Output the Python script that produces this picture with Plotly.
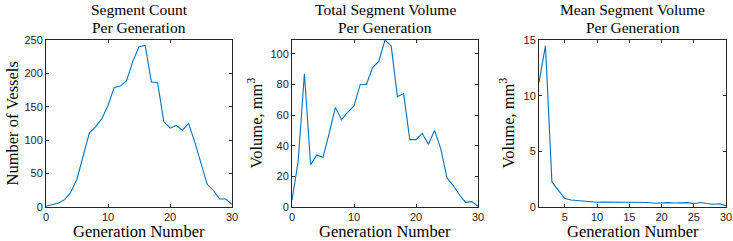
import plotly.graph_objects as go
from plotly.subplots import make_subplots

generations = list(range(0, 31))
segment_count = [1, 3, 6, 11, 22, 42, 76, 111, 120, 132, 152, 179, 181, 189, 218, 240,
                 242, 187, 186, 128, 118, 122, 115, 125, 97, 65, 34, 25, 12, 12, 4]
total_volume = [4.5, 30, 87, 27.6, 34, 32.4, 48, 65, 57, 62, 66, 80, 80, 91, 95, 109,
                105, 72, 74, 44, 44, 48, 41, 50, 38, 19, 14, 8, 3, 3.5, 0.5]
mean_generations = list(range(1, 31))
mean_volume = [11.2, 14.5, 2.25, 1.45, 0.76, 0.63, 0.58, 0.48, 0.47, 0.43, 0.45, 0.44,
               0.48, 0.44, 0.45, 0.43, 0.39, 0.40, 0.34, 0.37, 0.39, 0.36, 0.40, 0.39,
               0.29, 0.41, 0.32, 0.25, 0.29, 0.12]

title_line1 = ["Segment Count", "Total Segment Volume", "Mean Segment Volume"]
title_line2 = ["Per Generation", "Per Generation", "Per Generation"]
ylabels = ["Number of Vessels", "Volume, mm<sup>3</sup>", "Volume, mm<sup>3</sup>"]
xlabel = "Generation Number"

W, H = 733, 241
LINE = "#0072BD"
AX = "#262626"
SERIF = "Liberation Serif, Times New Roman, DejaVu Serif, serif"
SANS = "Liberation Sans, Arial, sans-serif"

fig = make_subplots(rows=1, cols=3)
fig.add_trace(go.Scatter(x=generations, y=segment_count, mode="lines",
                         line=dict(color=LINE, width=1.1)), 1, 1)
fig.add_trace(go.Scatter(x=generations, y=total_volume, mode="lines",
                         line=dict(color=LINE, width=1.1)), 1, 2)
fig.add_trace(go.Scatter(x=mean_generations, y=mean_volume, mode="lines",
                         line=dict(color=LINE, width=1.1)), 1, 3)

# pixel boxes of the three axes
boxes = [(46, 232), (292, 478), (539, 726)]
top, bottom = 40, 207
ydom = [(H - bottom) / H, (H - top) / H]

xranges = [[0, 30], [0, 30], [1, 30]]
xticks = [[0, 10, 20, 30], [0, 10, 20, 30], [5, 10, 15, 20, 25, 30]]
yranges = [[0, 250], [0, 109], [0, 15]]
yticks = [[0, 50, 100, 150, 200, 250], [0, 20, 40, 60, 80, 100], [0, 5, 10, 15]]
ylabel_x = [12, 256, 508]

common = dict(showgrid=False, zeroline=False, showline=True, linecolor=AX, linewidth=1,
              mirror="ticks", ticks="inside", ticklen=3, tickcolor=AX, tickwidth=1,
              automargin=False,
              tickfont=dict(family=SANS, size=11, color=AX))


def ann(text, x, y, size, angle=0):
    fig.add_annotation(text=text, x=x / W, y=1 - y / H, xref="paper", yref="paper",
                       showarrow=False, xanchor="center", yanchor="middle",
                       textangle=angle, borderpad=0,
                       font=dict(family=SERIF, size=size, color="black"))


for i in range(3):
    x0, x1 = boxes[i]
    fig.update_xaxes(domain=[x0 / W, x1 / W], range=xranges[i], tickvals=xticks[i],
                     row=1, col=i + 1, **common)
    fig.update_yaxes(domain=ydom, range=yranges[i], tickvals=yticks[i],
                     row=1, col=i + 1, **common)
    cx = (x0 + x1) / 2
    ann(title_line1[i], cx, 10, 15.5)
    ann(title_line2[i], cx, 27, 15.5)
    ann(xlabel, cx, 231.5, 16.5)
    ann(ylabels[i], ylabel_x[i], (top + bottom) / 2, 16.5, angle=-90)

fig.update_layout(width=W, height=H, margin=dict(l=0, r=0, t=0, b=0, autoexpand=False),
                  paper_bgcolor="white", plot_bgcolor="white", showlegend=False)

fig.write_html("out.html", config={"displayModeBar": False},
               post_script="document.body.style.margin='0';")
